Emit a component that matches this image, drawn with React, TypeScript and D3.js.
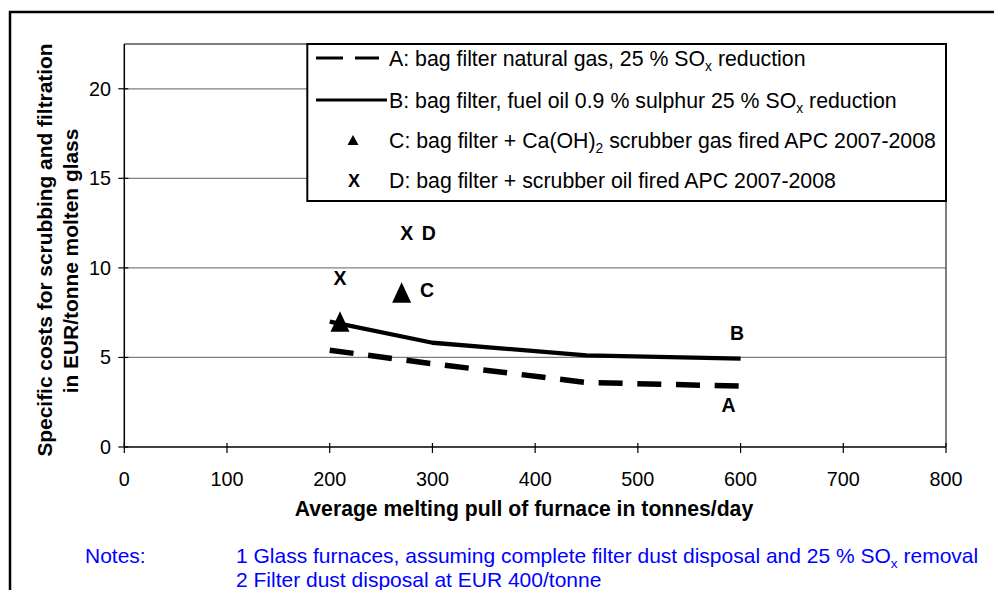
import React from "react";
import * as d3 from "d3";

// ---- data ----
const pullA = [200, 300, 450, 600];
const costA = [5.4, 4.65, 3.6, 3.4];
const pullB = [200, 300, 450, 600];
const costB = [7.0, 5.82, 5.12, 4.93];
const pullC = [210, 270];
const costC = [7.0, 8.63];
const pullD = [210, 275];
const costD = [9.44, 11.93];
const xTicks = [0, 100, 200, 300, 400, 500, 600, 700, 800];
const yTicks = [0, 5, 10, 15, 20];
const legendKeys = ["A", "B", "C", "D"];
const legendTexts = [
  ["A: bag filter natural gas, 25 % SO", "x", " reduction"],
  ["B: bag filter, fuel oil 0.9 % sulphur 25 % SO", "x", " reduction"],
  ["C: bag filter + Ca(OH)", "2", " scrubber gas fired APC 2007-2008"],
  ["D: bag filter + scrubber oil fired APC 2007-2008", "", ""],
];
const xTitle = "Average melting pull of furnace in tonnes/day";
const yTitle1 = "Specific costs for scrubbing and filtration";
const yTitle2 = "in EUR/tonne molten glass";
const notesLabel = "Notes:";
const note1 = ["1 Glass furnaces, assuming complete filter dust disposal and 25 % SO", "x", " removal"];
const note2 = "2 Filter dust disposal at EUR 400/tonne";

const FONT = "Arial, 'Liberation Sans', Helvetica, sans-serif";

export default function App() {
  const W = 994, H = 590;
  const left = 124.3, right = 946, top = 44, bottom = 447;
  const x = d3.scaleLinear().domain([0, 800]).range([left, right]);
  const y = d3.scaleLinear().domain([0, 22.5]).range([bottom, top]);

  const line = d3.line<[number, number]>().x(d => x(d[0])).y(d => y(d[1]));
  const dataA: [number, number][] = pullA.map((p, i) => [p, costA[i]]);
  const dataB: [number, number][] = pullB.map((p, i) => [p, costB[i]]);

  const tri = (cx: number, cy: number, w: number, h: number) =>
    `M${cx},${cy - h / 2}L${cx + w / 2},${cy + h / 2}L${cx - w / 2},${cy + h / 2}Z`;

  const legendRowY = [58, 100, 140, 180];

  return (
    <svg width={W} height={H} style={{ position: "absolute", left: 0, top: 0, background: "#fff" }} fontFamily={FONT}>
      <rect x={0} y={0} width={W} height={H} fill="#fff" />
      {/* outer frame */}
      <path d={`M10,${H}L10,12L${W},12`} fill="none" stroke="#000" strokeWidth={2.5} />

      {/* gridlines */}
      {yTicks.filter(t => t > 0).map(t => (
        <line key={t} x1={left} x2={right} y1={y(t)} y2={y(t)} stroke="#808080" strokeWidth={1.2} />
      ))}
      {/* plot frame top & right */}
      <path d={`M${left},${top}L${right},${top}L${right},${bottom}`} fill="none" stroke="#555" strokeWidth={1.5} />

      {/* axes */}
      <line x1={left} x2={right} y1={bottom} y2={bottom} stroke="#000" strokeWidth={1.5} />
      <line x1={left} x2={left} y1={top} y2={bottom} stroke="#000" strokeWidth={1.5} />
      {xTicks.map(t => (
        <g key={t}>
          <line x1={x(t)} x2={x(t)} y1={bottom - 4} y2={bottom + 6} stroke="#000" strokeWidth={1.2} />
          <text x={x(t)} y={485.5} textAnchor="middle" fontSize={19.8} fill="#000">{t}</text>
        </g>
      ))}
      {yTicks.map(t => (
        <g key={t}>
          <line x1={left - 6} x2={left + 4} y1={y(t)} y2={y(t)} stroke="#000" strokeWidth={1.2} />
          <text x={111} y={y(t) + 7} textAnchor="end" fontSize={19.8} fill="#000">{t}</text>
        </g>
      ))}

      {/* axis titles */}
      <text x={524} y={516} textAnchor="middle" fontSize={21.2} fontWeight="bold" fill="#000">{xTitle}</text>
      <text transform={`translate(51.7,250) rotate(-90)`} textAnchor="middle" fontSize={20.9} fontWeight="bold" fill="#000">{yTitle1}</text>
      <text transform={`translate(78.3,261) rotate(-90)`} textAnchor="middle" fontSize={20.9} fontWeight="bold" fill="#000">{yTitle2}</text>

      {/* series */}
      <path d={line(dataA) || ""} fill="none" stroke="#000" strokeWidth={5.5} strokeDasharray="24 14.7" />
      <path d={line(dataB) || ""} fill="none" stroke="#000" strokeWidth={4.3} strokeLinejoin="round" />
      {pullC.map((p, i) => (
        <path key={i} d={tri(x(p), y(costC[i]), 19, 20.5)} fill="#000" />
      ))}
      {pullD.map((p, i) => (
        <text key={i} x={x(p)} y={y(costD[i]) + 7} textAnchor="middle" fontSize={19.5} fontWeight="bold" fill="#000">X</text>
      ))}

      {/* point labels */}
      <text x={x(pullD[1]) + 15} y={y(costD[1]) + 7} fontSize={19.5} fontWeight="bold" fill="#000">D</text>
      <text x={x(pullC[1]) + 18.5} y={y(costC[1]) + 5} fontSize={19.5} fontWeight="bold" fill="#000">C</text>
      <text x={x(pullB[3]) - 10.5} y={y(costB[3]) - 19} fontSize={19.5} fontWeight="bold" fill="#000">B</text>
      <text x={x(pullA[3]) - 19} y={y(costA[3]) + 26} fontSize={19.5} fontWeight="bold" fill="#000">A</text>

      {/* legend */}
      <rect x={307.3} y={44} width={right - 307.3} height={157} fill="#fff" stroke="#000" strokeWidth={2} />
      {legendKeys.map((k, i) => {
        const cy = legendRowY[i];
        const t = legendTexts[i];
        let sample: React.ReactNode = null;
        if (k === "A") sample = <line x1={316} x2={379} y1={cy} y2={cy} stroke="#000" strokeWidth={3} strokeDasharray="27 12" />;
        if (k === "B") sample = <line x1={316} x2={387} y1={cy} y2={cy} stroke="#000" strokeWidth={3} />;
        if (k === "C") sample = <path d={tri(353, cy, 11, 10)} fill="#000" />;
        if (k === "D") sample = <text x={354} y={cy + 6.5} textAnchor="middle" fontSize={18} fontWeight="bold" fill="#000">X</text>;
        return (
          <g key={k}>
            {sample}
            <text x={389} y={cy + 7.5} fontSize={21.3} fill="#000">
              {t[0]}
              {t[1] && <tspan fontSize={13.8} dy={5}>{t[1]}</tspan>}
              {t[2] && <tspan dy={-5}>{t[2]}</tspan>}
            </text>
          </g>
        );
      })}

      {/* notes */}
      <text x={85} y={563} fontSize={21} fill="#0000FF">{notesLabel}</text>
      <text x={236} y={563} fontSize={21} fill="#0000FF">
        {note1[0]}
        <tspan fontSize={13.6} dy={5}>{note1[1]}</tspan>
        <tspan dy={-5}>{note1[2]}</tspan>
      </text>
      <text x={236} y={587} fontSize={21} fill="#0000FF">{note2}</text>
    </svg>
  );
}
